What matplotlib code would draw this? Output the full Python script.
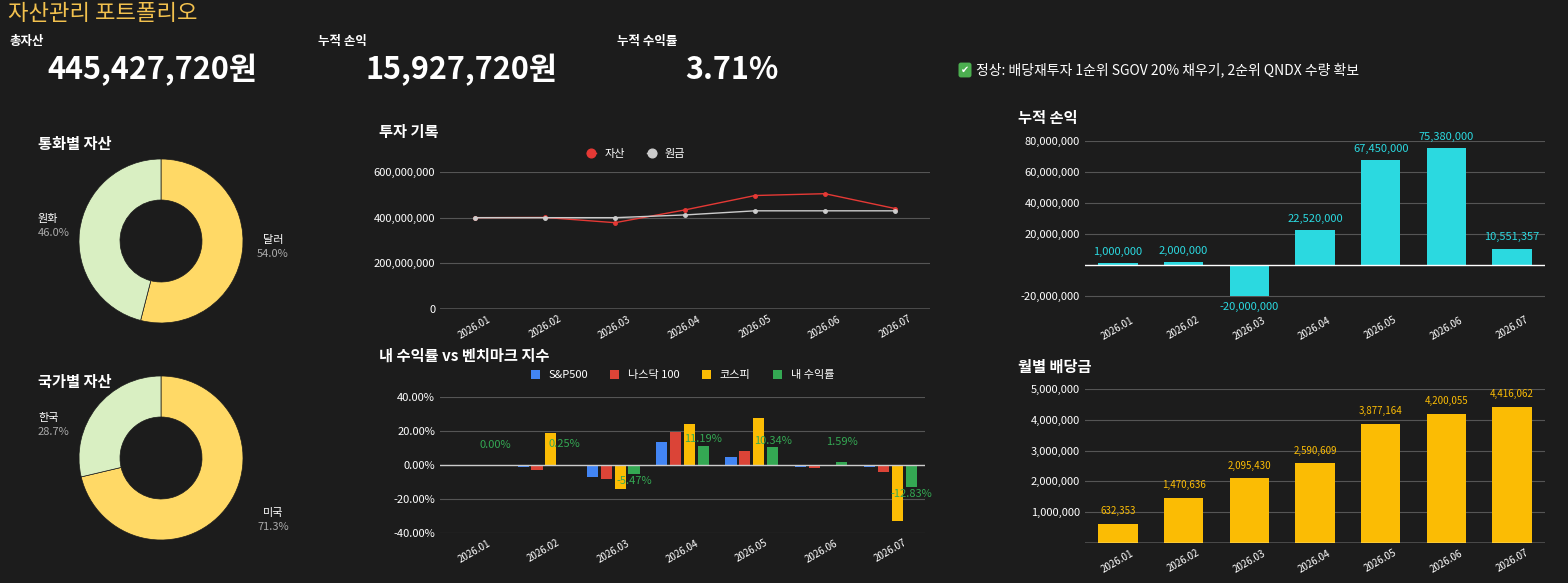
import numpy as np
import matplotlib.pyplot as plt
from matplotlib.ticker import FuncFormatter

plt.rcParams['font.family'] = ['Noto Sans CJK KR', 'DejaVu Sans']

months = ['2026.01', '2026.02', '2026.03', '2026.04', '2026.05', '2026.06', '2026.07']
asset = [400e6, 401e6, 378e6, 434e6, 497e6, 505e6, 440e6]
principal = [400e6, 400e6, 400e6, 412e6, 430e6, 430e6, 430e6]
sp500 = [0, -1.0, -7.0, 13.5, 5.0, -1.0, -1.0]
nasdaq = [0, -3.0, -8.0, 19.5, 8.0, -2.0, -4.0]
kospi = [0, 19.0, -14.0, 24.0, 27.5, 0, -33.0]
mine = [0, 0.25, -5.47, 11.19, 10.34, 1.59, -12.83]
pnl = [1000000, 2000000, -20000000, 22520000, 67450000, 75380000, 10551357]
dividend = [632353, 1470636, 2095430, 2590609, 3877164, 4200055, 4416062]
cur_labels = ['달러', '원화']
cur_vals = [54.0, 46.0]
cty_labels = ['미국', '한국']
cty_vals = [71.3, 28.7]

BG = '#1c1c1c'
W, H = 1568, 583
fig = plt.figure(figsize=(W / 100, H / 100), dpi=100, facecolor=BG)


def ax_px(x0, y0, x1, y1):
    a = fig.add_axes([x0 / W, 1 - y1 / H, (x1 - x0) / W, (y1 - y0) / H])
    a.set_facecolor(BG)
    return a


def ftext(x, y, s, **kw):
    fig.text(x / W, 1 - y / H, s, **kw)


def style(a):
    for s in a.spines.values():
        s.set_visible(False)
    a.tick_params(colors='white', length=0, labelsize=8)
    a.grid(axis='y', color='#555555', lw=0.8)
    a.set_axisbelow(True)


# header
ftext(8, 14, '자산관리 포트폴리오', color='#f2c14e', fontsize=16, va='center')
ftext(10, 42, '총자산', color='white', fontsize=9, weight='bold', va='center')
ftext(47, 70, '445,427,720원', color='white', fontsize=22, weight='bold', va='center')
ftext(318, 42, '누적 손익', color='white', fontsize=9, weight='bold', va='center')
ftext(366, 70, '15,927,720원', color='white', fontsize=22, weight='bold', va='center')
ftext(617, 42, '누적 수익률', color='white', fontsize=9, weight='bold', va='center')
ftext(685, 70, '3.71%', color='white', fontsize=22, weight='bold', va='center')
ftext(965, 70, '✔', color='white', fontsize=7, va='center', ha='center',
      family=['DejaVu Sans'],
      bbox=dict(boxstyle='round,pad=0.25', fc='#4caf50', ec='none'))
ftext(976, 70, '정상: 배당재투자 1순위 SGOV 20% 채우기, 2순위 QNDX 수량 확보',
      color='white', fontsize=10, va='center')

# donuts
YEL, GRN = '#ffd966', '#d9efc2'
for (cy, labels, vals, title, ty) in [(241, cur_labels, cur_vals, '통화별 자산', 144),
                                      (458, cty_labels, cty_vals, '국가별 자산', 382)]:
    ftext(38, ty, title, color='white', fontsize=11, weight='bold', va='center')
    a = ax_px(161 - 82, cy - 82, 161 + 82, cy + 82)
    a.pie(vals, colors=[YEL, GRN], startangle=90, counterclock=False,
          wedgeprops=dict(width=0.5, edgecolor=BG, linewidth=0.5), radius=1.0)
    a.set_xlim(-1, 1)
    a.set_ylim(-1, 1)
    a.set_aspect('equal')
ftext(38, 222, '원화', color='white', fontsize=8)
ftext(38, 236, '46.0%', color='#aaaaaa', fontsize=8)
ftext(263, 243, '달러', color='white', fontsize=8)
ftext(257, 257, '54.0%', color='#aaaaaa', fontsize=8)
ftext(38, 421, '한국', color='white', fontsize=8)
ftext(38, 435, '28.7%', color='#aaaaaa', fontsize=8)
ftext(263, 516, '미국', color='white', fontsize=8)
ftext(257, 530, '71.3%', color='#aaaaaa', fontsize=8)

x = np.arange(len(months))

# line chart
ftext(379, 132, '투자 기록', color='white', fontsize=11, weight='bold', va='center')
a = ax_px(440, 172, 930, 309)
style(a)
a.plot(x, asset, color='#e53935', lw=1, marker='o', ms=2.5, label='자산')
a.plot(x, principal, color='#cccccc', lw=1, marker='o', ms=2.5, label='원금')
a.set_ylim(0, 600e6)
a.set_yticks([0, 200e6, 400e6, 600e6])
a.yaxis.set_major_formatter(FuncFormatter(lambda v, p: f'{v:,.0f}'))
a.set_xlim(-0.5, 6.5)
a.set_xticks(x)
a.set_xticklabels(months, rotation=30, fontsize=7)
a.axhline(0, color='white', lw=1)
a.legend(loc='lower center', bbox_to_anchor=(0.4, 1.02), ncol=2, frameon=False,
         labelcolor='white', fontsize=8, handlelength=0.8, markerscale=2.5)

# benchmark bars
ftext(379, 356, '내 수익률 vs 벤치마크 지수', color='white', fontsize=11, weight='bold', va='center')
a = ax_px(440, 397, 925, 533)
style(a)
w = 0.2
cols = ['#4285f4', '#db4437', '#fbbc04', '#34a853']
names = ['S&P500', '나스닥 100', '코스피', '내 수익률']
for i, (vals, c, n) in enumerate(zip([sp500, nasdaq, kospi, mine], cols, names)):
    a.bar(x + (i - 1.5) * w, vals, w * 0.8, color=c, label=n)
for xi, v in zip(x, mine):
    a.text(xi + 1.5 * w, v + (4 if v >= 0 else -4) + (8 if xi in (0, 1, 5) else 0),
           f'{v:.2f}%', color='#34a853', fontsize=8, ha='center', va='center')
a.axhline(0, color='#cccccc', lw=1)
a.set_ylim(-40, 40)
a.set_yticks([-40, -20, 0, 20, 40])
a.yaxis.set_major_formatter(FuncFormatter(lambda v, p: f'{v:.2f}%'))
a.set_xlim(-0.5, 6.5)
a.set_xticks(x)
a.set_xticklabels(months, rotation=30, fontsize=7)
a.legend(loc='lower center', bbox_to_anchor=(0.5, 1.05), ncol=4, frameon=False,
         labelcolor='white', fontsize=8, handlelength=0.8, handleheight=0.8)

# cumulative pnl
ftext(1018, 118, '누적 손익', color='white', fontsize=11, weight='bold', va='center')
a = ax_px(1085, 141, 1545, 310)
style(a)
a.bar(x, pnl, 0.6, color='#2bd9e0')
for xi, v in zip(x, pnl):
    a.text(xi, v + 4e6 if v > 0 else v - 4e6, f'{v:,}', color='#2bd9e0', fontsize=8,
           ha='center', va='bottom' if v > 0 else 'top')
a.axhline(0, color='white', lw=1)
a.set_ylim(-29e6, 80e6)
a.set_yticks([-20e6, 20e6, 40e6, 60e6, 80e6])
a.yaxis.set_major_formatter(FuncFormatter(lambda v, p: f'{v:,.0f}'))
a.set_xlim(-0.5, 6.5)
a.set_xticks(x)
a.set_xticklabels(months, rotation=30, fontsize=7)

# dividends
ftext(1018, 367, '월별 배당금', color='white', fontsize=11, weight='bold', va='center')
a = ax_px(1085, 389, 1545, 543)
style(a)
a.bar(x, dividend, 0.6, color='#fbbc04')
for xi, v in zip(x, dividend):
    a.text(xi, v + 2.5e5, f'{v:,}', color='#fbbc04', fontsize=7, ha='center', va='bottom')
a.axhline(0, color='white', lw=1)
a.set_ylim(0, 5e6)
a.set_yticks([1e6, 2e6, 3e6, 4e6, 5e6])
a.yaxis.set_major_formatter(FuncFormatter(lambda v, p: f'{v:,.0f}'))
a.set_xlim(-0.5, 6.5)
a.set_xticks(x)
a.set_xticklabels(months, rotation=30, fontsize=7)

fig.savefig('out.png', dpi=100, facecolor=BG)
